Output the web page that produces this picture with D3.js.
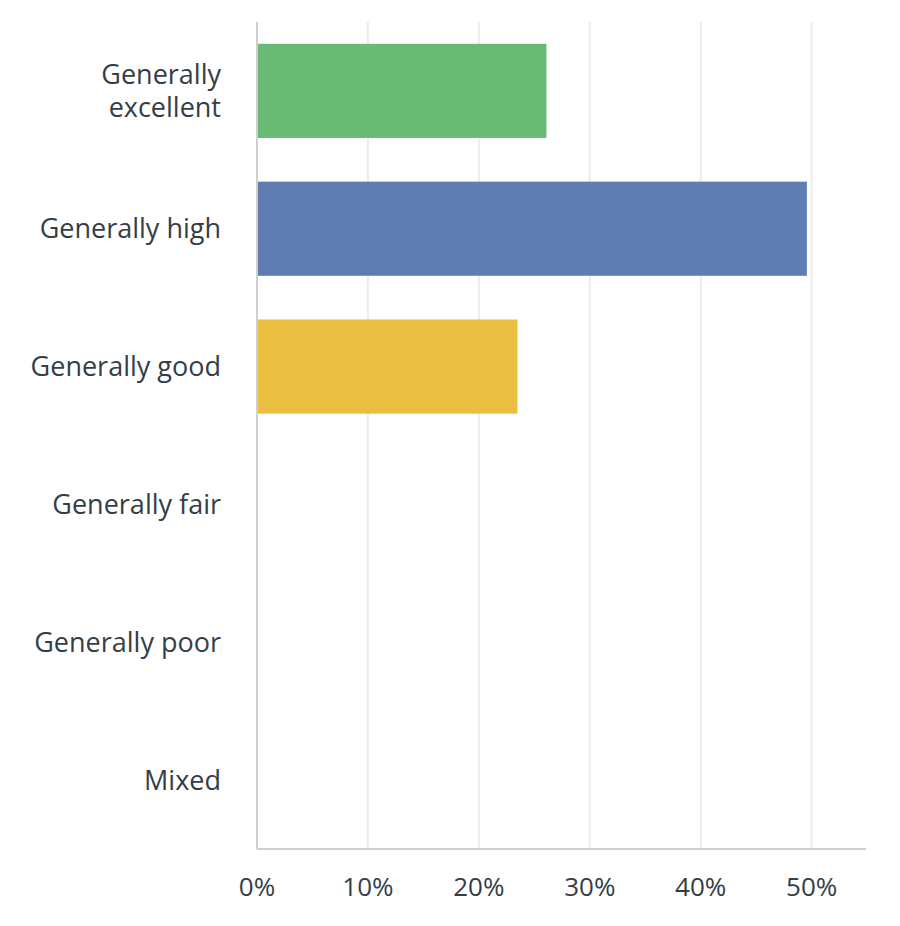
<!DOCTYPE html>
<html>
<head>
<meta charset="utf-8">
<script src="https://cdn.jsdelivr.net/npm/d3@7"></script>
<style>
  body { margin: 0; background: #fff; }
  text { font-family: "Open Sans", "Noto Sans", sans-serif; fill: #333e48; }
</style>
</head>
<body>
<div id="chart"></div>
<script>
// answer categories (top to bottom) and their share of responses
let categories = ['Generally excellent', 'Generally high', 'Generally good', 'Generally fair', 'Generally poor', 'Mixed']
let labelLines = [['Generally', 'excellent'], ['Generally high'], ['Generally good'], ['Generally fair'], ['Generally poor'], ['Mixed']]
let percents = [26.09, 49.57, 23.48, 0, 0, 0]
let barColors = ['#68ba75', '#5f7db1', '#e9be41', '#e9be41', '#e9be41', '#e9be41']
let ticks = [0, 10, 20, 30, 40, 50]

let width = 900
let height = 926
let margin = { top: 22, right: 34, bottom: 77, left: 257 }

let svg = d3
  .select('#chart')
  .append('svg')
  .attr('width', width)
  .attr('height', height)

let xScale = d3
  .scaleLinear()
  .domain([0, 54.9])
  .range([margin.left, width - margin.right])

let yScale = d3
  .scaleBand()
  .domain(categories)
  .range([margin.top, height - margin.bottom])
  .paddingInner(0.317)
  .paddingOuter(0.158)

let plotBottom = height - margin.bottom

// vertical gridlines
svg
  .append('g')
  .selectAll('line')
  .data(ticks.slice(1))
  .enter()
  .append('line')
  .attr('x1', d => xScale(d))
  .attr('x2', d => xScale(d))
  .attr('y1', margin.top)
  .attr('y2', plotBottom)
  .attr('stroke', '#ececec')
  .attr('stroke-width', 2)

// bars
svg
  .append('g')
  .selectAll('rect')
  .data(percents)
  .enter()
  .filter(d => d > 0)
  .append('rect')
  .attr('x', xScale(0))
  .attr('y', (d, i) => yScale(categories[i]))
  .attr('width', d => xScale(d) - xScale(0))
  .attr('height', yScale.bandwidth())
  .attr('fill', (d, i) => barColors[i])

// axis lines
svg
  .append('line')
  .attr('x1', xScale(0))
  .attr('x2', xScale(0))
  .attr('y1', margin.top)
  .attr('y2', plotBottom)
  .attr('stroke', '#cfcfcf')
  .attr('stroke-width', 2)

svg
  .append('line')
  .attr('x1', xScale(0))
  .attr('x2', width - margin.right)
  .attr('y1', plotBottom)
  .attr('y2', plotBottom)
  .attr('stroke', '#cfcfcf')
  .attr('stroke-width', 2)

// category labels
let lineHeight = 33
let labels = svg
  .append('g')
  .selectAll('text')
  .data(categories)
  .enter()
  .append('text')
  .attr('text-anchor', 'end')
  .attr('font-size', 27)

labels.each(function (d, i) {
  let lines = labelLines[i]
  let cy = yScale(d) + yScale.bandwidth() / 2
  let top = cy - ((lines.length - 1) * lineHeight) / 2
  d3.select(this)
    .selectAll('tspan')
    .data(lines)
    .enter()
    .append('tspan')
    .attr('x', margin.left - 36)
    .attr('y', (l, j) => top + j * lineHeight)
    .attr('dy', '0.35em')
    .text(l => l)
})

// tick labels
svg
  .append('g')
  .selectAll('text')
  .data(ticks)
  .enter()
  .append('text')
  .attr('x', d => xScale(d))
  .attr('y', 887)
  .attr('dy', '0.35em')
  .attr('text-anchor', 'middle')
  .attr('font-size', 26)
  .text(d => d + '%')
</script>
</body>
</html>
